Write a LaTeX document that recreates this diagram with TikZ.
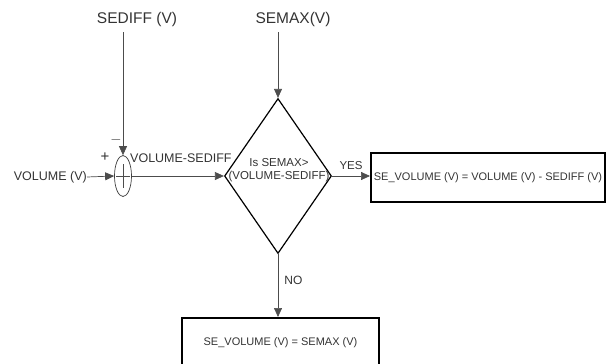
\documentclass[tikz,border=0pt]{standalone}
\usepackage{fontspec}
\setmainfont{Liberation Sans}
\usetikzlibrary{arrows.meta, positioning, shapes.geometric}

\begin{document}
\begin{tikzpicture}[x=1pt, y=-1pt,
    lbl/.style={text=black!80, inner sep=0pt},
    feed/.style={draw=black!70, line width=0.7pt},
    link/.style={feed, -{Triangle[length=9pt, width=8pt]}},
    decision/.style={diamond, draw, line width=1.2pt, inner sep=0pt,
                     minimum width=107pt, minimum height=155pt},
    resbox/.style={rectangle, draw, line width=2pt, inner sep=0pt,
                   text=black!80, font=\fontsize{11}{13}\selectfont}]
  \useasboundingbox (0,0) rectangle (606,364);
  \clip (0,0) rectangle (606,364);

  % inputs
  \node[lbl, font=\fontsize{15.5}{18}\selectfont] (sediffLbl) at (137,19) {SEDIFF (V)};
  \node[lbl, font=\fontsize{15.5}{18}\selectfont] (semaxLbl) at (293,19) {SEMAX(V)};
  \node[lbl, font=\fontsize{12.5}{15}\selectfont, anchor=east] (volLbl) at (87,177) {VOLUME (V)};
  \coordinate (sediffTop) at (123,32);
  \coordinate (semaxTop) at (278,32);

  % summing point
  \node[ellipse, draw=black!75, line width=0.7pt, minimum width=17pt,
        minimum height=41pt, inner sep=0pt] (sum) at (123,176) {};
  \draw[feed] (sum.center) +(-7,0) -- +(7,0);
  \draw[feed] (sum.center) +(0,-12) -- +(0,12);
  \node[lbl, font=\fontsize{15}{15}\selectfont] (plusSgn) at (105,157) {+};
  \node[lbl, font=\fontsize{14}{14}\selectfont] (minusSgn) at (116,140) {$-$};
  \node[lbl, font=\fontsize{12.5}{15}\selectfont, anchor=west] (diffLbl) at (130,158) {VOLUME-SEDIFF};

  % test
  \node[decision] (ask) at (278,176) {};
  \node[lbl, align=center, font=\fontsize{11.5}{13}\selectfont] (askTxt) at (279,170)
    {Is SEMAX>\\(VOLUME-SEDIFF)};

  % results
  \node[resbox, minimum width=234pt, minimum height=49pt] (res1) at (488,177.5)
    {SE\_VOLUME (V) = VOLUME (V) - SEDIFF (V)};
  \node[resbox, minimum width=197pt, minimum height=50pt] (res2) at (280.5,343)
    {SE\_VOLUME (V) = SEMAX (V)};

  % connectors
  \draw[link] (sediffTop) -- (sum.north);
  \draw[link] (semaxTop) -- (ask.north);
  \draw[link] (volLbl.east) -- (sum.west);
  \draw[link] (sum.east) -- (ask.west);
  \draw[link] (ask.east) -- (ask.east -| res1.west)
    node[lbl, font=\fontsize{11.5}{13}\selectfont, midway, above=6pt] (yesLbl) {YES};
  \draw[link] (ask.south) -- (ask.south |- res2.north)
    node[lbl, font=\fontsize{12}{14}\selectfont, pos=0.42, right=6pt] (noLbl) {NO};
\end{tikzpicture}
\end{document}
